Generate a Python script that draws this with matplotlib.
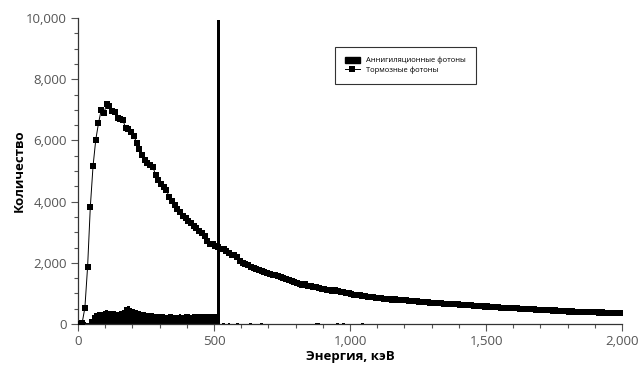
import numpy as np
import matplotlib
matplotlib.use("Agg")
import matplotlib.pyplot as plt
from matplotlib.ticker import MultipleLocator, FuncFormatter
from matplotlib.patches import Patch
from matplotlib.lines import Line2D

# Bin centres (keV), 10 keV bins
energy = np.arange(5, 2000, 10)

# Bremsstrahlung photons (Тормозные фотоны)
brems = [
    0, 40, 530, 1870, 3830, 5160, 6020, 6560, 6990, 6900,
    7180, 7130, 6960, 6920, 6720, 6690, 6660, 6400, 6360, 6290,
    6160, 5920, 5720, 5520, 5360, 5260, 5200, 5130, 4880, 4720,
    4590, 4480, 4380, 4140, 4010, 3880, 3760, 3660, 3520, 3450,
    3360, 3290, 3220, 3130, 3050, 2980, 2880, 2700, 2620, 2600,
    2560, 2510, 2460, 2440, 2400, 2310, 2260, 2240, 2190, 2060,
    2000, 1960, 1930, 1880, 1840, 1800, 1780, 1740, 1700, 1680,
    1640, 1610, 1590, 1560, 1530, 1500, 1470, 1450, 1420, 1390,
    1340, 1320, 1290, 1300, 1250, 1230, 1200, 1210, 1170, 1160,
    1140, 1120, 1110, 1090, 1100, 1070, 1040, 1050, 1010, 1000,
    990, 960, 950, 960, 920, 910, 890, 900, 870, 860,
    850, 860, 830, 820, 810, 800, 810, 790, 780, 770,
    780, 760, 750, 740, 740, 730, 720, 720, 710, 700,
    700, 690, 680, 690, 670, 660, 670, 650, 640, 650,
    630, 620, 620, 610, 610, 600, 590, 600, 580, 570,
    580, 560, 560, 550, 550, 540, 530, 540, 520, 520,
    510, 510, 500, 500, 490, 490, 480, 480, 470, 470,
    460, 470, 450, 450, 440, 450, 430, 430, 420, 430,
    410, 420, 400, 410, 400, 390, 400, 390, 380, 390,
    380, 370, 380, 370, 360, 370, 360, 350, 360, 350,
]

# Annihilation photons (Аннигиляционные фотоны), per 10 keV bin
annih = [
    130, 120, 60, 40, 180, 290, 350, 380, 400, 440,
    450, 430, 420, 430, 410, 420, 460, 560, 600, 520,
    490, 470, 430, 410, 390, 370, 360, 350, 340, 330,
    320, 315, 310, 315, 320, 310, 305, 315, 310, 320,
    315, 310, 320, 315, 320, 325, 320, 330, 330, 335,
    340, 9930, 0, 20, 0, 25, 0, 0, 20, 0,
    15, 0, 0, 20, 0, 0, 0, 25, 0, 0,
    0, 0, 0, 0, 0, 0, 0, 0, 0, 0,
    0, 0, 0, 0, 0, 0, 0, 30, 30, 0,
    0, 0, 0, 0, 0, 40, 0, 35, 0, 0,
    0, 0, 0, 0, 30, 0, 0, 0, 0, 0,
    0, 0, 0, 0, 0, 0, 0, 0, 0, 0,
    0, 0, 0, 0, 0, 0, 0, 0, 0, 0,
    0, 0, 0, 0, 0, 0, 0, 0, 0, 0,
    0, 0, 0, 0, 0, 0, 0, 0, 0, 0,
    0, 0, 0, 0, 0, 0, 0, 0, 0, 0,
    0, 0, 0, 0, 0, 0, 0, 0, 0, 0,
    0, 0, 0, 0, 0, 0, 0, 0, 0, 0,
    0, 0, 0, 0, 0, 0, 0, 0, 0, 0,
    0, 0, 0, 0, 0, 0, 0, 0, 0, 0,
]

label_annih = "Аннигиляционные фотоны"
label_brems = "Тормозные фотоны"
xlabel = "Энергия, кэВ"
ylabel = "Количество"

plt.rcParams["font.family"] = ["Open Sans", "DejaVu Sans"]

fig = plt.figure(figsize=(6.4, 3.67), dpi=100)
ax = fig.add_axes([0.122, 0.117, 0.850, 0.834])

edges = np.arange(0, 2010, 10)
fill_vals = list(annih) + [annih[-1]]
ax.fill_between(edges, fill_vals, step="post", color="black", lw=0, zorder=2)

ax.plot(energy, brems, color="black", lw=0.7, marker="s", markersize=4.0,
        markeredgewidth=0, zorder=3)

ax.set_xlim(0, 2000)
ax.set_ylim(0, 10000)
ax.xaxis.set_major_locator(MultipleLocator(500))
ax.xaxis.set_minor_locator(MultipleLocator(100))
ax.yaxis.set_major_locator(MultipleLocator(2000))
ax.yaxis.set_minor_locator(MultipleLocator(500))
fmt = FuncFormatter(lambda v, p: f"{int(v):,}")
ax.xaxis.set_major_formatter(fmt)
ax.yaxis.set_major_formatter(fmt)

for s in ["top", "right"]:
    ax.spines[s].set_visible(False)
for s in ["left", "bottom"]:
    ax.spines[s].set_color("#333333")
    ax.spines[s].set_linewidth(0.9)

ax.tick_params(which="major", direction="out", length=5, width=0.8,
               color="#555555", labelcolor="#555555", labelsize=9.5, pad=3)
ax.tick_params(which="minor", direction="out", length=3, width=0.8,
               color="#555555")

ax.set_xlabel(xlabel, fontsize=9.5, fontweight="bold", labelpad=1)
ax.set_ylabel(ylabel, fontsize=9.5, fontweight="bold", labelpad=0)

handles = [
    Patch(facecolor="black", edgecolor="black"),
    Line2D([0], [0], color="black", lw=0.7, marker="s", markersize=3.8,
           markeredgewidth=0),
]
leg = ax.legend(handles, [label_annih, label_brems], loc="upper left",
                bbox_to_anchor=(0.472, 0.906), fontsize=5.5, frameon=True,
                fancybox=False, borderpad=1.3, handlelength=2.0,
                handleheight=0.8, labelspacing=0.25, borderaxespad=0)
leg.get_frame().set_edgecolor("black")
leg.get_frame().set_linewidth(0.8)

fig.savefig("out.png", dpi=100)
